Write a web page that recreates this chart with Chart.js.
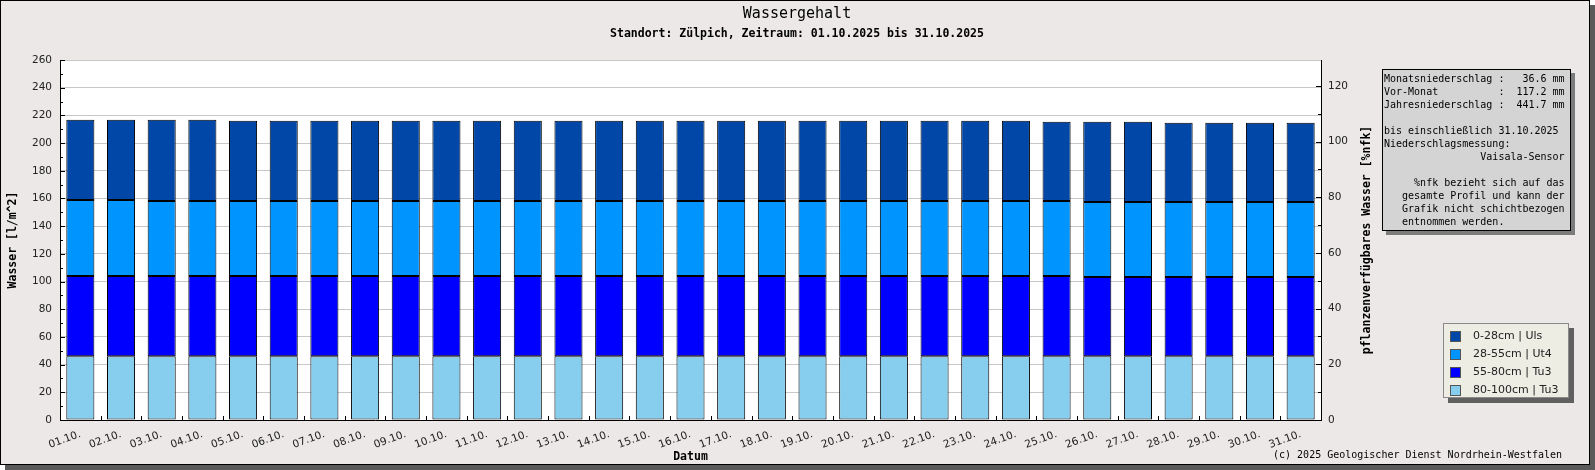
<!DOCTYPE html>
<html>
<head>
<meta charset="utf-8">
<style>
  html, body { margin: 0; padding: 0; background: #ffffff; }
  canvas { display: block; }
</style>
</head>
<body>
<canvas id="grafik" width="1595" height="470"></canvas>
<script src="https://cdn.jsdelivr.net/npm/chart.js"></script>
<script>
    // Tage (x-Achse)
    const tage = ['01.10.', '02.10.', '03.10.', '04.10.', '05.10.', '06.10.', '07.10.', '08.10.',
        '09.10.', '10.10.', '11.10.', '12.10.', '13.10.', '14.10.', '15.10.', '16.10.',
        '17.10.', '18.10.', '19.10.', '20.10.', '21.10.', '22.10.', '23.10.', '24.10.',
        '25.10.', '26.10.', '27.10.', '28.10.', '29.10.', '30.10.', '31.10.'];

    // Wassergehalt je Schicht in l/m^2 (von unten nach oben)
    const schicht80_100 = [46.0, 46.0, 46.0, 46.0, 46.0, 46.0, 46.0, 46.0, 46.0, 46.0, 46.0,
        46.0, 46.0, 46.0, 46.0, 46.0, 46.0, 46.0, 46.0, 46.0, 46.0, 46.0, 46.0, 46.0, 46.0,
        46.0, 46.0, 46.0, 46.0, 46.0, 46.0];
    const schicht55_80 = [58.0, 58.0, 58.0, 58.0, 58.0, 58.0, 58.0, 58.0, 58.0, 58.0, 58.0,
        58.0, 58.0, 58.0, 58.0, 58.0, 58.0, 58.0, 58.0, 58.0, 58.0, 58.0, 58.0, 58.0, 58.0,
        57.3, 57.3, 57.3, 57.3, 57.3, 57.3];
    const schicht28_55 = [54.9, 54.9, 54.2, 54.2, 54.2, 54.2, 54.2, 54.2, 54.2, 54.2, 54.2,
        54.2, 54.2, 54.2, 54.2, 54.2, 54.2, 54.2, 54.2, 54.2, 54.2, 54.2, 54.2, 54.2, 54.2,
        54.2, 54.2, 54.2, 54.2, 54.2, 54.2];
    const schicht0_28 = [57.9, 57.9, 58.6, 58.6, 57.9, 57.9, 57.9, 57.9, 57.9, 57.9, 57.9,
        57.9, 57.9, 57.9, 57.9, 57.9, 57.9, 57.9, 57.9, 57.9, 57.9, 57.9, 57.9, 57.9, 57.2,
        57.9, 57.9, 57.2, 57.2, 57.2, 57.2];

    const schichtNamen = ['80-100cm | Tu3', '55-80cm | Tu3', '28-55cm | Ut4', '0-28cm | Uls'];
    const schichtFarben = ['#87cdee', '#0000ff', '#0094ff', '#0047a8'];

    // Achsen
    const linksMax = 260;
    const rechtsMax = 129.3;

    // Texte
    const titel = 'Wassergehalt';
    const untertitel = 'Standort: Zülpich, Zeitraum: 01.10.2025 bis 31.10.2025';
    const titelLinks = 'Wasser [l/m^2]';
    const titelRechts = 'pflanzenverfügbares Wasser [%nfk]';
    const titelUnten = 'Datum';
    const copyright = '(c) 2025 Geologischer Dienst Nordrhein-Westfalen';
    const infoZeilen = [
        'Monatsniederschlag :   36.6 mm',
        'Vor-Monat          :  117.2 mm',
        'Jahresniederschlag :  441.7 mm',
        '',
        'bis einschließlich 31.10.2025',
        'Niederschlagsmessung:',
        '                Vaisala-Sensor',
        '',
        '     %nfk bezieht sich auf das',
        '   gesamte Profil und kann der',
        '   Grafik nicht schichtbezogen',
        '   entnommen werden.'
    ];

    const MONO = '"DejaVu Sans Mono", "Liberation Mono", monospace';
    const SANS = '"DejaVu Sans", sans-serif';

    // Rahmen, Hintergrund, Texte, Info-Box und Legende
    const rahmenPlugin = {
        id: 'rahmen',
        beforeDraw(chart) {
            const ctx = chart.ctx;
            const a = chart.chartArea;
            ctx.save();
            ctx.fillStyle = '#ffffff';
            ctx.fillRect(0, 0, chart.width, chart.height);
            ctx.fillStyle = '#5a5a5a';
            ctx.fillRect(5, 5, 1590, 465);
            ctx.fillStyle = '#ebe8e7';
            ctx.fillRect(0, 0, 1590, 465);
            ctx.strokeStyle = '#000000';
            ctx.lineWidth = 1;
            ctx.strokeRect(0.5, 0.5, 1589, 464);
            ctx.fillStyle = '#ffffff';
            ctx.fillRect(a.left, a.top, a.right - a.left, a.bottom - a.top);
            ctx.restore();
        },
        afterDraw(chart) {
            const ctx = chart.ctx;
            const a = chart.chartArea;
            const sx = chart.scales.x, sy = chart.scales.y, sy2 = chart.scales.y2;
            ctx.save();

            // Teilstriche nach innen
            ctx.strokeStyle = '#000000';
            ctx.lineWidth = 1;
            ctx.beginPath();
            for (let v = 0; v <= linksMax; v += 10) {
                const y = Math.round(sy.getPixelForValue(v)) + 0.5;
                const l = v % 20 === 0 ? 5 : 3;
                ctx.moveTo(a.left, y); ctx.lineTo(a.left + l, y);
            }
            for (let v = 0; v <= rechtsMax; v += 10) {
                const y = Math.round(sy2.getPixelForValue(v)) + 0.5;
                const l = v % 20 === 0 ? 5 : 3;
                ctx.moveTo(a.right, y); ctx.lineTo(a.right - l, y);
            }
            for (let i = 1; i < tage.length; i++) {
                const x = Math.round((sx.getPixelForTick(i - 1) + sx.getPixelForTick(i)) / 2) + 0.5;
                ctx.moveTo(x, a.bottom); ctx.lineTo(x, a.bottom - 4);
            }
            ctx.stroke();

            // Titel
            ctx.fillStyle = '#000000';
            ctx.textAlign = 'center';
            ctx.textBaseline = 'middle';
            ctx.font = '15px ' + MONO;
            ctx.fillText(titel, 797, 14.5);
            ctx.font = 'bold 11.5px ' + MONO;
            ctx.fillText(untertitel, 797, 34);
            ctx.fillText(titelUnten, (a.left + a.right) / 2, 457);

            ctx.save();
            ctx.translate(13, (a.top + a.bottom) / 2);
            ctx.rotate(-Math.PI / 2);
            ctx.fillText(titelLinks, 0, 0);
            ctx.restore();
            ctx.save();
            ctx.translate(1367, (a.top + a.bottom) / 2);
            ctx.rotate(-Math.PI / 2);
            ctx.fillText(titelRechts, 0, 0);
            ctx.restore();

            ctx.font = '10px ' + MONO;
            ctx.textAlign = 'right';
            ctx.fillText(copyright, 1562, 455);

            // Info-Box
            ctx.fillStyle = '#7c7c7c';
            ctx.fillRect(1386, 73, 189, 162);
            ctx.fillStyle = '#d4d4d4';
            ctx.fillRect(1382, 69, 189, 162);
            ctx.strokeStyle = '#000000';
            ctx.strokeRect(1382.5, 69.5, 188, 161);
            ctx.fillStyle = '#000000';
            ctx.textAlign = 'left';
            ctx.font = '10px ' + MONO;
            infoZeilen.forEach((z, i) => {
                ctx.fillText(z, 1384, 79.5 + i * 13);
            });

            // Legende
            ctx.fillStyle = '#606060';
            ctx.fillRect(1448, 328, 126, 75);
            ctx.fillStyle = '#ededE3';
            ctx.fillRect(1443, 323, 126, 75);
            ctx.strokeStyle = '#8a8a8a';
            ctx.strokeRect(1443.5, 323.5, 125, 74);
            ctx.font = '11px ' + SANS;
            const ds = chart.data.datasets.slice().reverse();
            ds.forEach((d, k) => {
                const y = 336 + k * 18;
                ctx.fillStyle = d.backgroundColor;
                ctx.fillRect(1450, y - 5, 11, 11);
                ctx.strokeStyle = '#555555';
                ctx.strokeRect(1450.5, y - 4.5, 10, 10);
                ctx.fillStyle = '#222222';
                ctx.fillText(d.label, 1473, y);
            });
            ctx.restore();
        }
    };

    function crearGrafico() {
        const ctx = document.getElementById('grafik').getContext('2d');
        const datensaetze = [schicht80_100, schicht55_80, schicht28_55, schicht0_28].map((werte, i) => ({
            label: schichtNamen[i],
            data: werte,
            backgroundColor: schichtFarben[i],
            borderColor: '#000000',
            borderWidth: 1,
            borderSkipped: false,
            categoryPercentage: 1.0,
            barPercentage: 0.69,
            yAxisID: 'y'
        }));
        new Chart(ctx, {
            type: 'bar',
            data: { labels: tage, datasets: datensaetze },
            options: {
                responsive: false,
                animation: false,
                layout: { padding: { top: 60, left: 0, right: 214, bottom: 0 } },
                plugins: { legend: { display: false }, tooltip: { enabled: false } },
                scales: {
                    x: {
                        stacked: true,
                        grid: { display: false, drawTicks: false },
                        border: { display: true, color: '#000000', width: 1 },
                        ticks: {
                            autoSkip: false, minRotation: 20, maxRotation: 20, padding: 8,
                            color: '#222222', font: { family: SANS, size: 10.5 }
                        },
                        afterFit: (s) => { s.height = 50; }
                    },
                    y: {
                        stacked: true,
                        position: 'left',
                        min: 0, max: linksMax,
                        grid: { color: '#c8c8c8', drawTicks: false },
                        border: { display: true, color: '#000000', width: 1 },
                        ticks: {
                            stepSize: 20, padding: 8,
                            color: '#222222', font: { family: SANS, size: 10.5 }
                        },
                        afterFit: (s) => { s.width = 60; }
                    },
                    y2: {
                        position: 'right',
                        min: 0, max: rechtsMax,
                        grid: { display: false, drawTicks: false },
                        border: { display: true, color: '#000000', width: 1 },
                        ticks: {
                            stepSize: 20, padding: 7, includeBounds: false,
                            color: '#222222', font: { family: SANS, size: 10.5 }
                        },
                        afterFit: (s) => { s.width = 60; }
                    }
                }
            },
            plugins: [rahmenPlugin]
        });
    }

    crearGrafico();
</script>
</body>
</html>
